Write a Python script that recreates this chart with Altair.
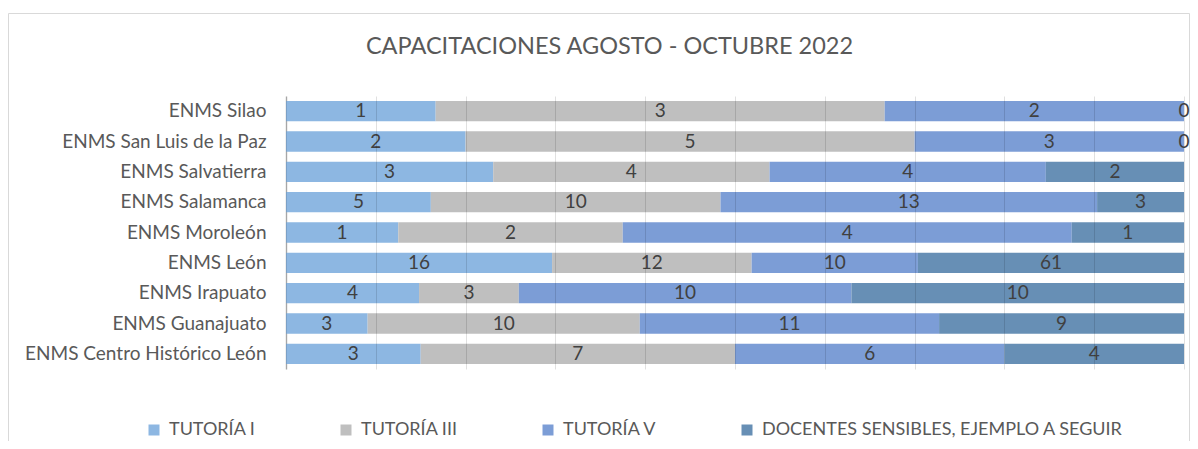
import altair as alt
import pandas as pd

title_text = "CAPACITACIONES AGOSTO - OCTUBRE 2022"
schools = ["ENMS Silao", "ENMS San Luis de la Paz", "ENMS Salvatierra", "ENMS Salamanca",
           "ENMS Moroleón", "ENMS León", "ENMS Irapuato", "ENMS Guanajuato",
           "ENMS Centro Histórico León"]
series = ["TUTORÍA I", "TUTORÍA III", "TUTORÍA V", "DOCENTES SENSIBLES, EJEMPLO A SEGUIR"]
tutoria_1 = [1, 2, 3, 5, 1, 16, 4, 3, 3]
tutoria_3 = [3, 5, 4, 10, 2, 12, 3, 10, 7]
tutoria_5 = [2, 3, 4, 13, 4, 10, 10, 11, 6]
docentes = [0, 0, 2, 3, 1, 16, 10, 9, 4]
# data labels as printed on the original chart
labels_1 = ["1", "2", "3", "5", "1", "16", "4", "3", "3"]
labels_3 = ["3", "5", "4", "10", "2", "12", "3", "10", "7"]
labels_5 = ["2", "3", "4", "13", "4", "10", "10", "11", "6"]
labels_d = ["0", "0", "2", "3", "1", "61", "10", "9", "4"]
colors = ["#8DB7E2", "#BFBFBF", "#7C9DD6", "#678FB5"]

rows = []
for vals, labs, s_i in [(tutoria_1, labels_1, 0), (tutoria_3, labels_3, 1),
                        (tutoria_5, labels_5, 2), (docentes, labels_d, 3)]:
    for sc, v, lb in zip(schools, vals, labs):
        rows.append({"school": sc, "serie": series[s_i], "order": s_i, "value": v, "label": lb})
df = pd.DataFrame(rows)

FONT = "Lato"
W, H = 898, 273

base = alt.Chart(df).transform_stack(
    stack="value", groupby=["school"], as_=["v0", "v1"], offset="normalize",
    sort=[alt.SortField("order", order="ascending")]
).transform_calculate(mid="(datum.v0 + datum.v1) / 2")

yenc = alt.Y("school:N", sort=schools, title=None,
             scale=alt.Scale(paddingInner=0.33, paddingOuter=0.165),
             axis=alt.Axis(labelFont=FONT, labelFontSize=19, labelColor="#595959",
                           ticks=False, labelPadding=20, domainColor="#BFBFBF",
                           domainWidth=1.5, labelLimit=400))

bars = base.mark_bar().encode(
    x=alt.X("v0:Q", scale=alt.Scale(domain=[0, 1], nice=False),
            axis=alt.Axis(values=[i / 10 for i in range(11)], labels=False, ticks=False,
                          domain=False, title=None, grid=True, gridColor="#000000",
                          gridOpacity=0.12, zindex=1)),
    x2="v1:Q",
    y=yenc,
    color=alt.Color("serie:N", scale=alt.Scale(domain=series, range=colors),
                    sort=series,
                    legend=alt.Legend(title=None, orient="none", direction="horizontal",
                                      legendX=-141, legendY=325, columnPadding=81,
                                      symbolType="square", symbolSize=121,
                                      symbolStrokeWidth=0, labelOffset=6,
                                      labelFont=FONT, labelFontSize=18,
                                      labelColor="#595959", labelLimit=500)),
)

texts = base.mark_text(font=FONT, fontSize=19, color="#404040", baseline="middle").encode(
    x="mid:Q",
    y=alt.Y("school:N", sort=schools),
    text="label:N",
)

frame = alt.Chart(pd.DataFrame({"a": [0]})).mark_rect(
    fill=None, stroke="#D9D9D9", strokeWidth=1
).encode(x=alt.value(-277.5), x2=alt.value(903.5), y=alt.value(-82.5), y2=alt.value(400))

title = alt.Chart(pd.DataFrame({"t": [title_text]})).mark_text(
    font=FONT, fontSize=23.5, color="#595959", align="center", baseline="alphabetic"
).encode(x=alt.value(323.5), y=alt.value(-42), text="t:N")

chart = alt.layer(frame, bars, texts, title).properties(
    width=W, height=H,
    autosize=alt.AutoSizeParams(type="none"),
    padding={"left": 278, "top": 88, "right": 6, "bottom": 72},
).configure_view(stroke=None)

chart.save("out.html", embed_options={"renderer": "svg", "actions": False})
